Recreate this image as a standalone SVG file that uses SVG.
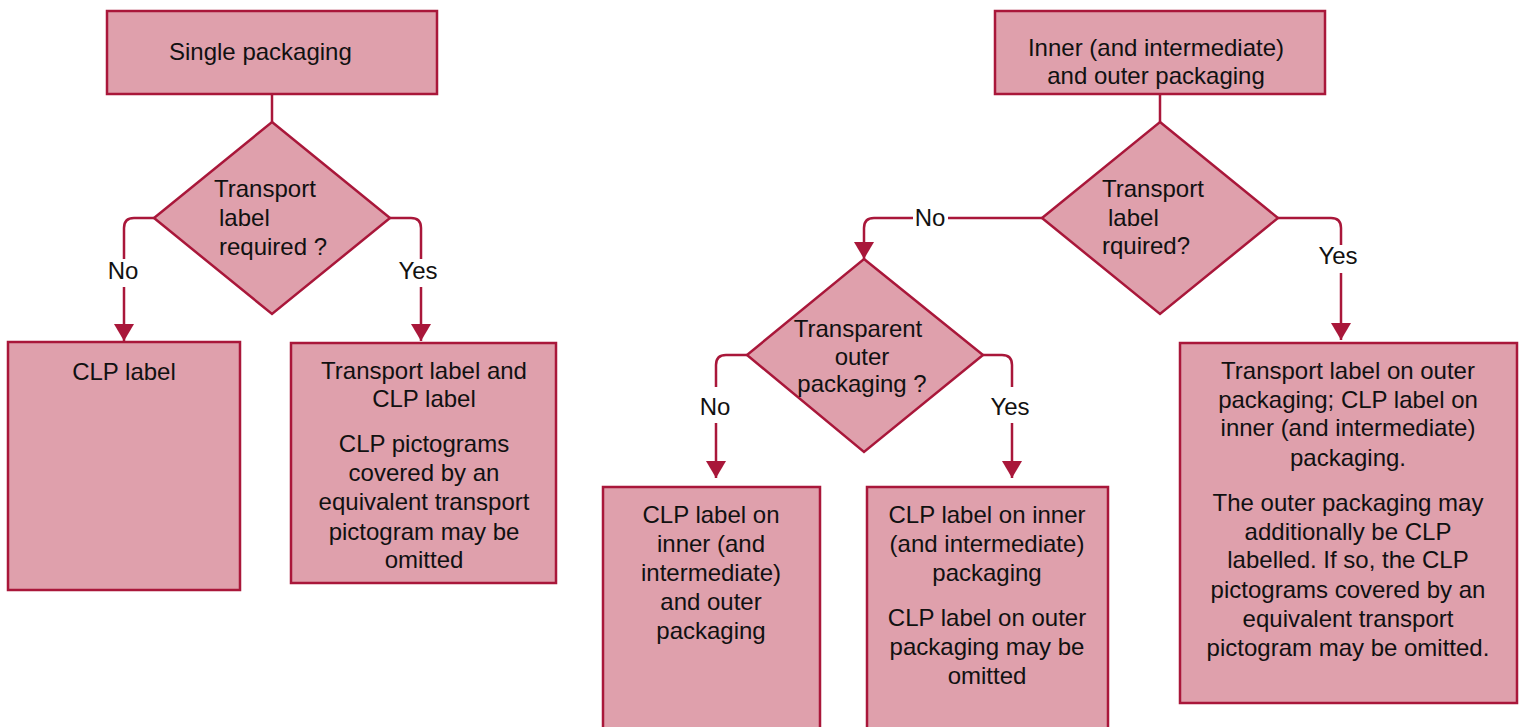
<svg xmlns="http://www.w3.org/2000/svg" width="1523" height="727" viewBox="0 0 1523 727">
<style>
.n{fill:#DFA0AC;stroke:#A9173A;stroke-width:2.5}
.c{fill:none;stroke:#A9173A;stroke-width:2.5}
text{font-family:"Liberation Sans",Arial,sans-serif;font-size:24px;fill:#111}
.m{text-anchor:middle}
</style>
<defs>
<marker id="ah" viewBox="0 0 17 20" refX="17" refY="10" markerWidth="17" markerHeight="20" markerUnits="userSpaceOnUse" orient="auto">
<path d="M0,0 L17,10 L0,20 z" fill="#A9173A"/>
</marker>
</defs>
<rect width="1523" height="727" fill="#fff"/>
<g id="connectors">
<path class="c" d="M272,94 V122"/>
<path class="c" d="M154,218 H134 Q124,218 124,228 V259"/>
<path class="c" d="M124,287 V341" marker-end="url(#ah)"/>
<path class="c" d="M390,218 H411 Q421,218 421,228 V259"/>
<path class="c" d="M421,287 V341" marker-end="url(#ah)"/>
<path class="c" d="M1160,94 V122"/>
<path class="c" d="M1278,218 H1331 Q1341,218 1341,228 V245"/>
<path class="c" d="M1341,273 V340" marker-end="url(#ah)"/>
<path class="c" d="M1042,218 H948"/>
<path class="c" d="M913,218 H874 Q864,218 864,228 V259" marker-end="url(#ah)"/>
<path class="c" d="M747,355 H726 Q716,355 716,365 V387"/>
<path class="c" d="M716,423 V478" marker-end="url(#ah)"/>
<path class="c" d="M983,355 H1002 Q1012,355 1012,365 V387"/>
<path class="c" d="M1012,423 V478" marker-end="url(#ah)"/>
<text class="m" x="123" y="279">No</text>
<text class="m" x="418" y="279">Yes</text>
<text class="m" x="930" y="226">No</text>
<text class="m" x="1338" y="264">Yes</text>
<text class="m" x="715" y="415">No</text>
<text class="m" x="1010" y="415">Yes</text>
</g>
<g id="single-packaging">
<rect class="n" x="107" y="11" width="330" height="83"/>
<text x="169" y="60">Single packaging</text>
</g>
<g id="q-transport-1">
<path class="n" d="M272,122 L390,218 L272,314 L154,218 z"/>
<text x="214" y="197">Transport</text>
<text x="219" y="226">label</text>
<text x="219" y="255">required ?</text>
</g>
<g id="clp-label">
<rect class="n" x="8" y="342" width="232" height="248"/>
<text class="m" x="124" y="380">CLP label</text>
</g>
<g id="transport-and-clp">
<rect class="n" x="291" y="343" width="265" height="240"/>
<text class="m" x="424" y="379">Transport label and</text>
<text class="m" x="424" y="407">CLP label</text>
<text class="m" x="424" y="452">CLP pictograms</text>
<text class="m" x="424" y="481">covered by an</text>
<text class="m" x="424" y="510">equivalent transport</text>
<text class="m" x="424" y="540">pictogram may be</text>
<text class="m" x="424" y="568">omitted</text>
</g>
<g id="inner-outer-packaging">
<rect class="n" x="995" y="11" width="330" height="83"/>
<text class="m" x="1156" y="56">Inner (and intermediate)</text>
<text class="m" x="1156" y="84">and outer packaging</text>
</g>
<g id="q-transport-2">
<path class="n" d="M1160,122 L1278,218 L1160,314 L1042,218 z"/>
<text x="1102" y="197">Transport</text>
<text x="1108" y="226">label</text>
<text x="1102" y="254">rquired?</text>
</g>
<g id="q-transparent">
<path class="n" d="M864,259 L983,355 L864,452 L747,355 z"/>
<text class="m" x="858" y="337">Transparent</text>
<text class="m" x="862" y="365">outer</text>
<text class="m" x="862" y="392">packaging ?</text>
</g>
<g id="clp-inner-and-outer">
<rect class="n" x="603" y="487" width="217" height="250"/>
<text class="m" x="711" y="523">CLP label on</text>
<text class="m" x="711" y="552">inner (and</text>
<text class="m" x="711" y="581">intermediate)</text>
<text class="m" x="711" y="610">and outer</text>
<text class="m" x="711" y="639">packaging</text>
</g>
<g id="clp-inner-only">
<rect class="n" x="867" y="487" width="241" height="250"/>
<text class="m" x="987" y="523">CLP label on inner</text>
<text class="m" x="987" y="552">(and intermediate)</text>
<text class="m" x="987" y="581">packaging</text>
<text class="m" x="987" y="626">CLP label on outer</text>
<text class="m" x="987" y="655">packaging may be</text>
<text class="m" x="987" y="684">omitted</text>
</g>
<g id="transport-outer-clp-inner">
<rect class="n" x="1180" y="343" width="337" height="360"/>
<text class="m" x="1348" y="379">Transport label on outer</text>
<text class="m" x="1348" y="408">packaging; CLP label on</text>
<text class="m" x="1348" y="436">inner (and intermediate)</text>
<text class="m" x="1348" y="466">packaging.</text>
<text class="m" x="1348" y="511">The outer packaging may</text>
<text class="m" x="1348" y="540">additionally be CLP</text>
<text class="m" x="1348" y="568">labelled. If so, the CLP</text>
<text class="m" x="1348" y="598">pictograms covered by an</text>
<text class="m" x="1348" y="627">equivalent transport</text>
<text class="m" x="1348" y="656">pictogram may be omitted.</text>
</g>
</svg>
